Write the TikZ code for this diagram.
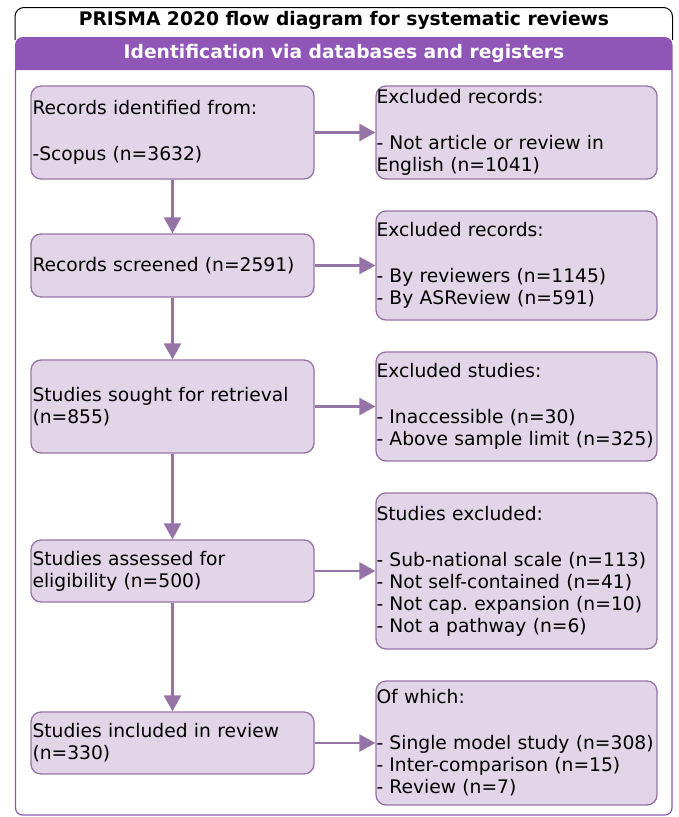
\documentclass[tikz,border=0pt]{standalone}
\usepackage{fontspec}
\setmainfont{DejaVu Sans}
\usetikzlibrary{arrows.meta,positioning}
\frenchspacing
\definecolor{boxfill}{RGB}{225,213,231}
\definecolor{boxline}{RGB}{150,115,166}
\definecolor{bandpurple}{RGB}{143,86,184}
\tikzset{
  leftbox/.style={draw=boxline, fill=boxfill, rounded corners=10pt, line width=1.3pt,
    align=left, text width=280pt, inner xsep=1.5pt, inner ysep=0pt, minimum height=#1,
    font=\fontsize{18.7}{22}\selectfont},
  rightbox/.style={draw=boxline, fill=boxfill, rounded corners=10pt, line width=1.3pt,
    align=left, text width=280pt, inner xsep=0.5pt, inner ysep=0pt, minimum height=#1,
    font=\fontsize{18.7}{22}\selectfont},
  titletext/.style={font=\bfseries\fontsize{18.7}{22}\selectfont, text=#1},
  flowarrow/.style={-{Triangle[length=16pt,width=17pt]}, line width=2.6pt, draw=boxline}
}
\begin{document}
\begin{tikzpicture}[x=1pt,y=-1pt]
  \useasboundingbox (0,0) rectangle (678,817);

  \draw[black, line width=1pt, rounded corners=9pt] (15,40) -- (15,7.5) -- (672.5,7.5) -- (672.5,40);
  \fill[bandpurple, rounded corners=8pt] (15,70) -- (15,37) -- (672.5,37) -- (672.5,70);
  \draw[bandpurple, line width=1.2pt, rounded corners=7pt] (15.5,70) -- (15.5,815) -- (672,815) -- (672,70);

  \node[titletext=black] (prisma) at (344,20) {PRISMA 2020 flow diagram for systematic reviews};
  \node[titletext=white] (identification) at (344,53) {Identification via databases and registers};

  \node[leftbox=93pt] (identified) at (172.5,132.5) {Records identified from:\\[24pt]-Scopus (n=3632)};
  \node[leftbox=63pt] (screened) at (172.5,265.5) {Records screened (n=2591)};
  \node[leftbox=93pt] (sought) at (172.5,406.5) {Studies sought for retrieval\\(n=855)};
  \node[leftbox=62pt] (assessed) at (172.5,571) {Studies assessed for\\eligibility (n=500)};
  \node[leftbox=62pt] (included) at (172.5,743) {Studies included in review\\(n=330)};

  \node[rightbox=93pt] (excluded1) at (516.5,132.5) {Excluded records:\\[24pt]- Not article or review in\\English (n=1041)};
  \node[rightbox=109pt] (excluded2) at (516.5,265.5) {Excluded records:\\[24pt]- By reviewers (n=1145)\\- By ASReview (n=591)};
  \node[rightbox=109pt] (excluded3) at (516.5,406.5) {Excluded studies:\\[24pt]- Inaccessible (n=30)\\- Above sample limit (n=325)};
  \node[rightbox=156pt] (excluded4) at (516.5,571) {Studies excluded:\\[24pt]- Sub-national scale (n=113)\\- Not self-contained (n=41)\\- Not cap. expansion (n=10)\\- Not a pathway (n=6)};
  \node[rightbox=124pt] (ofwhich) at (516.5,743) {Of which:\\[24pt]- Single model study (n=308)\\- Inter-comparison (n=15)\\- Review (n=7)};

  \draw[flowarrow] (identified) -- (screened);
  \draw[flowarrow] (screened) -- (sought);
  \draw[flowarrow] (sought) -- (assessed);
  \draw[flowarrow] (assessed) -- (included);

  \draw[flowarrow] (identified) -- (excluded1);
  \draw[flowarrow] (screened) -- (excluded2);
  \draw[flowarrow] (sought) -- (excluded3);
  \draw[flowarrow] (assessed) -- (excluded4);
  \draw[flowarrow] (included) -- (ofwhich);
\end{tikzpicture}
\end{document}
